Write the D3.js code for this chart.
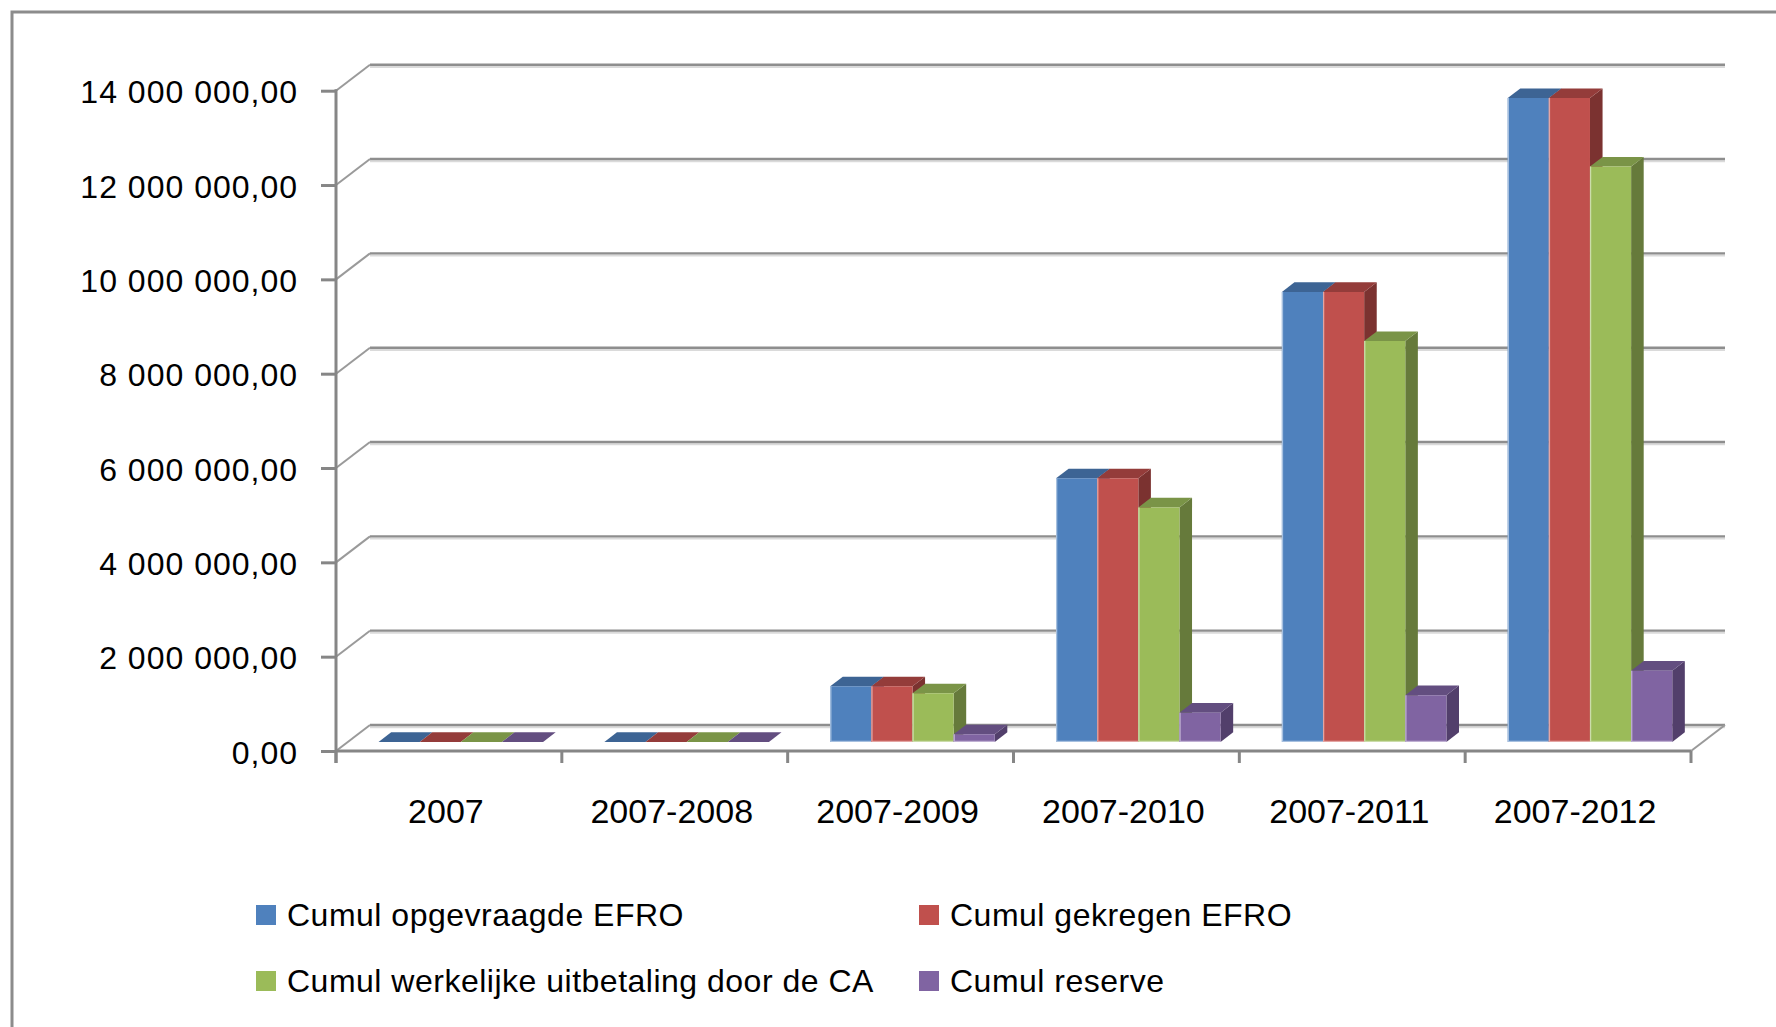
<!DOCTYPE html>
<html>
<head>
<meta charset="utf-8">
<script src="https://cdn.jsdelivr.net/npm/d3@7"></script>
<style>
  html, body { margin: 0; padding: 0; background: #fff; }
  svg { display: block; }
</style>
</head>
<body>
<svg id="chart" width="1776" height="1027"></svg>
<script>
const categories = ["2007", "2007-2008", "2007-2009", "2007-2010", "2007-2011", "2007-2012"];
const seriesNames = [
  "Cumul opgevraagde EFRO",
  "Cumul gekregen EFRO",
  "Cumul werkelijke uitbetaling door de CA",
  "Cumul reserve"
];
const opgevraagd = [0, 0, 1180000, 5590000, 9540000, 13650000];
const gekregen = [0, 0, 1180000, 5590000, 9540000, 13650000];
const uitbetaald = [0, 0, 1030000, 4970000, 8500000, 12200000];
const reserve = [0, 0, 160000, 620000, 990000, 1510000];
const yTicks = [0, 2000000, 4000000, 6000000, 8000000, 10000000, 12000000, 14000000];

const seriesValues = [opgevraagd, gekregen, uitbetaald, reserve];
// front, top, side shades (Office 2007 palette)
const colors = [
  { front: "#4f81bd", top: "#3d6494", side: "#385d8a", edge: "#a7c0df" },
  { front: "#c0504d", top: "#943c3a", side: "#7b3230", edge: "#e3a5a3" },
  { front: "#9bbb59", top: "#7a9447", side: "#667a3b", edge: "#cbdcaa" },
  { front: "#8064a2", top: "#634e80", side: "#523f6b", edge: "#bfb0d2" }
];

const svg = d3.select("#chart");
const font = "'Liberation Sans', Arial, sans-serif";

const frontLeft = 336, frontRight = 1691;
const baseY = 751, topY = 90.7;
const depthX = 34, depthY = 26;
const barD0 = 0.35, barD1 = 0.72;

const x = d3.scaleBand().domain(categories).range([frontLeft, frontRight]);
const y = d3.scaleLinear().domain([0, 14000000]).range([baseY, topY]);
const inner = d3.scaleBand().domain(seriesNames).range([0, x.bandwidth()]).paddingOuter(0.745);

const proj = (px, py, d) => [px + depthX * d, py - depthY * d];
const poly = (pts) => "M" + pts.map((p) => p.join(",")).join("L") + "Z";

const locale = d3.formatLocale({ decimal: ",", thousands: " ", grouping: [3], currency: ["", ""] });
const fmt = locale.format(",.2f");

// outer frame
svg.append("rect")
  .attr("x", 12).attr("y", 12)
  .attr("width", 1900).attr("height", 1100)
  .attr("fill", "none").attr("stroke", "#8c8c8c").attr("stroke-width", 3);

// gridlines on side wall and back wall
const grid = svg.append("g");
yTicks.forEach((t) => {
  const a = [frontLeft, y(t)];
  const b = proj(frontLeft, y(t), 1);
  const c = proj(frontRight, y(t), 1);
  grid.append("line")
    .attr("x1", b[0]).attr("x2", c[0]).attr("y1", b[1] + 2.2).attr("y2", c[1] + 2.2)
    .attr("stroke", "#dadada").attr("stroke-width", 2);
  grid.append("line")
    .attr("x1", b[0]).attr("x2", c[0]).attr("y1", b[1]).attr("y2", c[1])
    .attr("stroke", "#8e8e8e").attr("stroke-width", 2.4);
  grid.append("line")
    .attr("x1", a[0]).attr("x2", b[0]).attr("y1", a[1]).attr("y2", b[1])
    .attr("stroke", "#9a9a9a").attr("stroke-width", 2);
});

// floor right edge
const fr = proj(frontRight, baseY, 1);
svg.append("line")
  .attr("x1", frontRight).attr("y1", baseY).attr("x2", fr[0]).attr("y2", fr[1])
  .attr("stroke", "#9a9a9a").attr("stroke-width", 2);

// bars
const bars = svg.append("g");
categories.forEach((cat, ci) => {
  seriesNames.forEach((s, si) => {
    const v = seriesValues[si][ci];
    const x0 = x(cat) + inner(s);
    const x1 = x0 + inner.bandwidth();
    const yb = y(0), yt = y(v);
    const col = colors[si];
    bars.append("path")
      .attr("d", poly([proj(x1, yt, barD0), proj(x1, yb, barD0), proj(x1, yb, barD1), proj(x1, yt, barD1)]))
      .attr("fill", col.side);
    bars.append("path")
      .attr("d", poly([proj(x0, yt, barD0), proj(x1, yt, barD0), proj(x1, yt, barD1), proj(x0, yt, barD1)]))
      .attr("fill", col.top);
    if (yb - yt > 0.5) {
      bars.append("path")
        .attr("d", poly([proj(x0, yt, barD0), proj(x1, yt, barD0), proj(x1, yb, barD0), proj(x0, yb, barD0)]))
        .attr("fill", col.front);
      const p1 = proj(x0 + 0.6, yt, barD0), p2 = proj(x0 + 0.6, yb - 0.6, barD0), p3 = proj(x1, yb - 0.6, barD0);
      bars.append("path")
        .attr("d", "M" + [p1, p2, p3].map((p) => p.join(",")).join("L"))
        .attr("fill", "none").attr("stroke", col.edge).attr("stroke-width", 1.3);
    }
  });
});

// y axis
const yAxis = svg.append("g")
  .attr("transform", `translate(${frontLeft},0)`)
  .call(d3.axisLeft(y).tickValues(yTicks).tickFormat(fmt).tickSize(15).tickPadding(23).tickSizeOuter(0));
yAxis.select(".domain").remove();
yAxis.selectAll(".tick line").attr("stroke", "#868686").attr("stroke-width", 3);
yAxis.selectAll(".tick text")
  .attr("font-family", font).attr("font-size", 32).attr("fill", "#000")
  .attr("letter-spacing", 1).attr("dy", "0.38em");
svg.append("line")
  .attr("x1", frontLeft).attr("x2", frontLeft).attr("y1", y(14000000) - 1.5).attr("y2", baseY + 12)
  .attr("stroke", "#868686").attr("stroke-width", 3);

// x axis
const xAxis = svg.append("g")
  .attr("transform", `translate(0,${baseY})`)
  .call(d3.axisBottom(x).tickSize(0).tickPadding(48).tickSizeOuter(0));
xAxis.select(".domain").remove();
xAxis.selectAll(".tick text")
  .attr("font-family", font).attr("font-size", 34).attr("fill", "#000").attr("dx", "-3");
svg.append("line")
  .attr("x1", frontLeft).attr("x2", frontRight).attr("y1", baseY).attr("y2", baseY)
  .attr("stroke", "#868686").attr("stroke-width", 3);
const edges = categories.map((c) => x(c)).concat([frontRight]);
svg.append("g").selectAll("line").data(edges).join("line")
  .attr("x1", (d) => d).attr("x2", (d) => d).attr("y1", baseY).attr("y2", baseY + 12)
  .attr("stroke", "#868686").attr("stroke-width", 3);

// legend
const legendPos = [[256, 926], [919, 926], [256, 992], [919, 992]];
const legend = svg.append("g");
seriesNames.forEach((s, i) => {
  const [lx, ly] = legendPos[i];
  legend.append("rect")
    .attr("x", lx).attr("y", ly - 21).attr("width", 20).attr("height", 20)
    .attr("fill", colors[i].front);
  legend.append("text")
    .attr("x", lx + 31).attr("y", ly)
    .attr("font-family", font).attr("font-size", 32).attr("fill", "#000")
    .attr("letter-spacing", 0.5)
    .text(s);
});
</script>
</body>
</html>
